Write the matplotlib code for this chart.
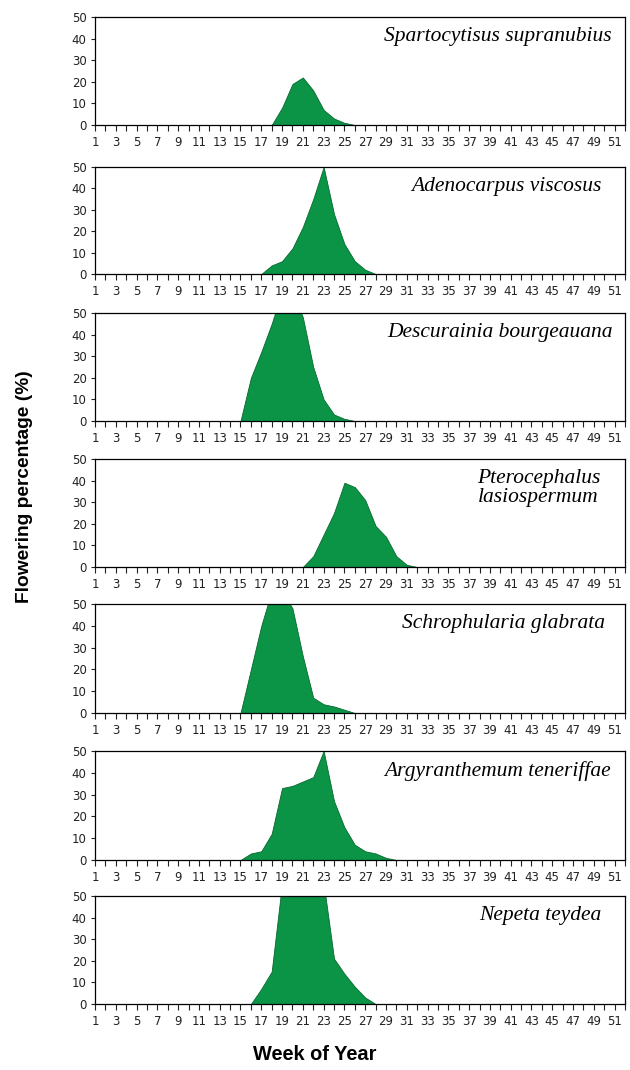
import numpy as np
import matplotlib
matplotlib.use("Agg")
import matplotlib.pyplot as plt

weeks = np.arange(1, 53)

species = [
    "Spartocytisus supranubius",
    "Adenocarpus viscosus",
    "Descurainia bourgeauana",
    "Pterocephalus\nlasiospermum",
    "Schrophularia glabrata",
    "Argyranthemum teneriffae",
    "Nepeta teydea",
]

# flowering % by week, only the non-zero stretch (start week, values)
spartocytisus = (18, [0, 8, 19, 22, 16, 7, 3, 1, 0])
adenocarpus = (17, [0, 4, 6, 12, 22, 35, 50, 28, 14, 6, 2, 0])
descurainia = (15, [0, 20, 32, 45, 60, 60, 48, 25, 10, 3, 1, 0])
pterocephalus = (21, [0, 5, 15, 25, 39, 37, 31, 19, 14, 5, 1, 0])
schrophularia = (15, [0, 20, 40, 56, 56, 48, 26, 7, 4, 3, 1.5, 0])
argyranthemum = (15, [0, 3, 4, 12, 33, 34, 36, 38, 50, 27, 15, 7, 4, 3, 1, 0])
nepeta = (16, [0, 7, 15, 56, 56, 56, 56, 56, 21, 14, 8, 3, 0])

series = [spartocytisus, adenocarpus, descurainia, pterocephalus,
          schrophularia, argyranthemum, nepeta]


def full_year(start, vals):
    y = np.zeros(len(weeks))
    y[start - 1:start - 1 + len(vals)] = vals
    return y


def main():
    fig = plt.figure(figsize=(6.3, 10.7), dpi=100)
    # panel top/bottom in pixels
    rows = [(17, 125), (167, 274), (313, 421), (459, 567),
            (604, 713), (751, 860), (896, 1004)]
    # right edge of the species name, pixels
    name_right = [612, 602, 613, 600, 605, 611, 601]
    left, right = 95, 625
    for (top, bot), name, (start, vals), nx in zip(rows, species, series,
                                                  name_right):
        ax = fig.add_axes([left / 630, 1 - bot / 1070,
                           (right - left) / 630, (bot - top) / 1070])
        y = full_year(start, vals)
        ax.fill_between(weeks, 0, y, color="#0b9446", edgecolor="#06682f",
                        linewidth=0.6)
        ax.set_xlim(1, 52)
        ax.set_ylim(0, 50)
        ax.set_yticks(range(0, 51, 10))
        ax.set_xticks(weeks, minor=True)
        ax.set_xticks(weeks[::2])
        ax.tick_params(axis="x", which="both", direction="out", length=4,
                       width=0.8, labelsize=8.5, pad=4, colors="#222222")
        ax.tick_params(axis="y", direction="out", length=3, width=0.8,
                       labelsize=8.5, pad=3, colors="#222222")
        for s in ax.spines.values():
            s.set_linewidth(0.9)
        ax.text((nx - left) / (right - left), 0.91, name,
                transform=ax.transAxes, ha="right", va="top",
                multialignment="center", fontsize=15.5, style="italic",
                family="Liberation Serif", linespacing=1.05)

    fig.text(0.5, 1 - 1055 / 1070, "Week of Year", ha="center", va="center",
             fontsize=14.4, fontweight="bold", family="Liberation Sans")
    fig.text(25 / 630, 1 - 487 / 1070, "Flowering percentage (%)",
             rotation=90, ha="center", va="center", fontsize=13.8,
             fontweight="bold", family="Liberation Sans")
    fig.savefig("out.png", dpi=100)


if __name__ == "__main__":
    main()
